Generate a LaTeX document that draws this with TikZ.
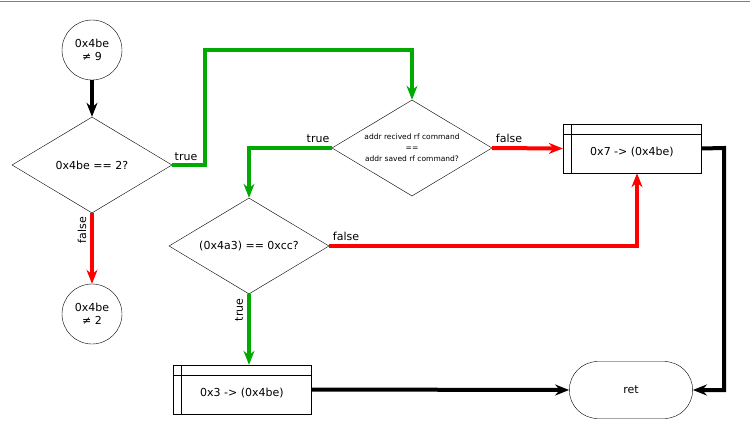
\documentclass[tikz,border=0pt]{standalone}
\usepackage{fontspec}
\setmainfont{DejaVu Sans}
\usetikzlibrary{shapes.geometric,shapes.misc,arrows.meta}
\definecolor{tgreen}{RGB}{0,170,0}
\definecolor{fred}{RGB}{255,0,0}
\begin{document}
\begin{tikzpicture}[x=1pt,y=-1pt,
  circ/.style={circle,draw,thin,minimum size=60pt,inner sep=0pt,align=center,font=\fontsize{11}{13.5}\selectfont},
  dia/.style={diamond,draw,thin,minimum width=160pt,minimum height=96pt,inner sep=0pt,aspect=1.67,align=center,font=\fontsize{11}{13}\selectfont},
  box/.style={draw,thin,minimum width=138pt,minimum height=49pt,inner sep=0pt,font=\fontsize{11}{13}\selectfont,text depth=0pt},
  con/.style={line width=4pt,-{Stealth[length=14pt,width=11pt]}},
  lab/.style={font=\fontsize{11}{13}\selectfont,inner sep=1pt}]
\useasboundingbox (0,0) rectangle (750,434);
\draw[gray] (0,1) -- (750,1);
\node[circ] (c1) at (92,50) {0x4be\\≠ 9};
\node[dia] (d1) at (92,165) {0x4be == 2?};
\node[circ] (c2) at (92,314) {0x4be\\≠ 2};
\node[dia,font=\fontsize{7.5}{11}\selectfont] (d2) at (412,148) {addr recived rf command\\==\\addr saved rf command?};
\node[dia] (d3) at (249,246) {(0x4a3) == 0xcc?};
\node[box] (b1) at (632,148.5) {\raisebox{-5pt}{0x7 -> (0x4be)}};
\draw[thin] (b1.north west)++(0,10) -- ++(138,0) (b1.north west)++(8,0) -- ++(0,49);
\node[box] (b2) at (242,389.5) {\raisebox{-5pt}{0x3 -> (0x4be)}};
\draw[thin] (b2.north west)++(0,10) -- ++(138,0) (b2.north west)++(8,0) -- ++(0,49);
\node[draw,thin,rounded rectangle,minimum width=130pt,minimum height=57pt,font=\fontsize{11}{13}\selectfont] (ret) at (631,390) {ret};
\draw[con] (c1) -- (d1);
\draw[con,tgreen] (d1.east) -- (205,165) -- (205,50) -- (412,50) -- (d2.north);
\node[lab] at (186,157) {true};
\draw[con,fred] (d1.south) -- (c2.north);
\node[lab,rotate=90] at (82,230) {false};
\draw[con,tgreen] (d2.west) -- (249,148) -- (d3.north);
\node[lab] at (318,139) {true};
\draw[con,fred] (d2.east) -- (b1.west);
\node[lab] at (509,138) {false};
\draw[con,fred] (d3.east) -- (637,246) -- (b1.south -| 637,0);
\node[lab] at (346,236) {false};
\draw[con,tgreen] (d3.south) -- (d3.south |- b2.north);
\node[lab,rotate=90] at (239,310) {true};
\draw[con] (b2.east) -- (ret.west);
\draw[con] (b1.east) -- (724,148) -- (724,390) -- (ret.east);
\end{tikzpicture}
\end{document}
